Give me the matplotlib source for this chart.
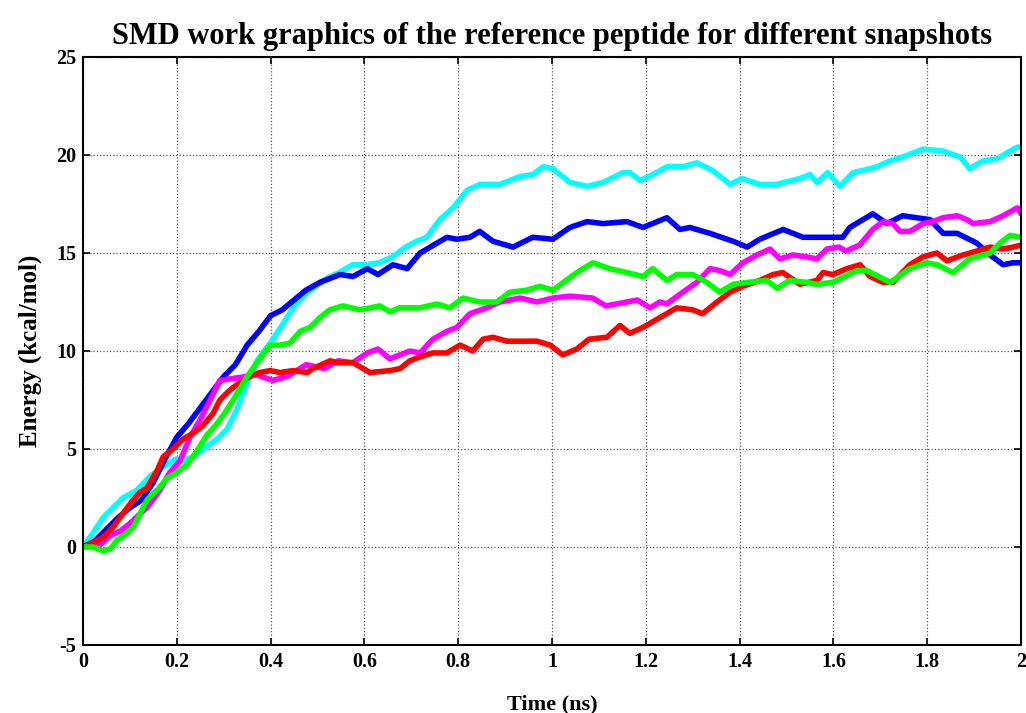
import matplotlib.pyplot as plt

# Energy curves (time in ns, energy in kcal/mol)
t_blue = [0, 0.025, 0.05, 0.075, 0.1, 0.125, 0.15, 0.175, 0.2, 0.225, 0.25, 0.275, 0.3, 0.325, 0.35,
          0.375, 0.4, 0.425, 0.45, 0.475, 0.505, 0.548, 0.576, 0.606, 0.629, 0.661, 0.691, 0.719,
          0.776, 0.797, 0.825, 0.846, 0.874, 0.917, 0.959, 1.002, 1.038, 1.075, 1.109, 1.160,
          1.194, 1.245, 1.273, 1.294, 1.337, 1.386, 1.416, 1.443, 1.493, 1.535, 1.593, 1.620,
          1.635, 1.684, 1.714, 1.748, 1.806, 1.834, 1.864, 1.906, 1.934, 1.962, 1.983, 2.0]
e_blue = [0, 0.3, 0.9, 1.5, 2.0, 2.4, 3.3, 4.5, 5.6, 6.3, 7.1, 7.9, 8.7, 9.3, 10.3,
          11.0, 11.8, 12.1, 12.6, 13.1, 13.5, 13.9, 13.8, 14.2, 13.9, 14.4, 14.2, 15.0,
          15.8, 15.7, 15.8, 16.1, 15.6, 15.3, 15.8, 15.7, 16.3, 16.6, 16.5, 16.6,
          16.3, 16.8, 16.2, 16.3, 16.0, 15.6, 15.3, 15.7, 16.2, 15.8, 15.8, 15.8,
          16.3, 17.0, 16.5, 16.9, 16.7, 16.0, 16.0, 15.5, 14.9, 14.4, 14.5, 14.5]

t_cyan = [0, 0.021, 0.043, 0.064, 0.085, 0.115, 0.143, 0.171, 0.200, 0.213, 0.235, 0.256, 0.286,
          0.307, 0.328, 0.350, 0.371, 0.399, 0.427, 0.448, 0.478, 0.520, 0.546, 0.575, 0.603,
          0.631, 0.660, 0.688, 0.712, 0.733, 0.761, 0.789, 0.819, 0.846, 0.874, 0.889, 0.932,
          0.960, 0.981, 1.002, 1.038, 1.075, 1.109, 1.151, 1.166, 1.188, 1.215, 1.245, 1.279,
          1.309, 1.343, 1.380, 1.405, 1.443, 1.479, 1.529, 1.550, 1.565, 1.588, 1.614, 1.642,
          1.678, 1.693, 1.721, 1.748, 1.791, 1.834, 1.870, 1.891, 1.919, 1.949, 1.977, 1.992, 2.0]
e_cyan = [0, 0.7, 1.5, 2.0, 2.5, 2.9, 3.6, 4.1, 4.5, 4.4, 4.6, 5.0, 5.5,
          6.0, 7.0, 8.4, 9.5, 10.4, 11.4, 12.2, 13.0, 13.7, 14.0, 14.4, 14.4,
          14.5, 14.8, 15.3, 15.6, 15.8, 16.7, 17.3, 18.2, 18.5, 18.5, 18.5, 18.9,
          19.0, 19.4, 19.3, 18.6, 18.4, 18.6, 19.1, 19.1, 18.7, 19.0, 19.4, 19.4,
          19.6, 19.2, 18.5, 18.8, 18.5, 18.5, 18.8, 19.0, 18.6, 19.1, 18.4, 19.1,
          19.3, 19.4, 19.7, 19.9, 20.3, 20.2, 19.9, 19.3, 19.7, 19.8, 20.2, 20.4, 20.4]

t_magenta = [0, 0.036, 0.058, 0.079, 0.100, 0.122, 0.136, 0.164, 0.185, 0.207, 0.228, 0.250,
             0.271, 0.292, 0.320, 0.348, 0.367, 0.405, 0.435, 0.476, 0.515, 0.544, 0.575,
             0.606, 0.629, 0.654, 0.697, 0.719, 0.746, 0.776, 0.797, 0.825, 0.861, 0.889,
             0.932, 0.968, 1.002, 1.038, 1.087, 1.115, 1.160, 1.182, 1.209, 1.230, 1.245,
             1.279, 1.309, 1.337, 1.358, 1.380, 1.407, 1.437, 1.465, 1.486, 1.514, 1.543,
             1.565, 1.586, 1.612, 1.627, 1.656, 1.684, 1.706, 1.727, 1.742, 1.763, 1.791,
             1.812, 1.834, 1.864, 1.885, 1.898, 1.934, 1.962, 1.992, 2.0]
e_magenta = [0, 0.1, 0.6, 0.8, 1.2, 1.7, 2.0, 2.9, 3.8, 4.4, 5.6, 6.5,
             7.5, 8.5, 8.6, 8.7, 8.8, 8.5, 8.7, 9.3, 9.1, 9.5, 9.4,
             9.9, 10.1, 9.6, 10.0, 9.9, 10.6, 11.0, 11.2, 11.9, 12.2, 12.5,
             12.7, 12.5, 12.7, 12.8, 12.7, 12.3, 12.5, 12.6, 12.2, 12.5, 12.4,
             13.0, 13.5, 14.2, 14.1, 13.9, 14.5, 14.9, 15.2, 14.7, 14.9, 14.8,
             14.7, 15.2, 15.3, 15.1, 15.4, 16.2, 16.6, 16.5, 16.1, 16.1, 16.5,
             16.6, 16.8, 16.9, 16.7, 16.5, 16.6, 16.9, 17.3, 17.0]

t_green = [0, 0.021, 0.043, 0.058, 0.073, 0.094, 0.107, 0.122, 0.136, 0.158, 0.179, 0.200,
           0.222, 0.243, 0.264, 0.286, 0.307, 0.328, 0.350, 0.371, 0.399, 0.420, 0.441,
           0.463, 0.484, 0.505, 0.526, 0.554, 0.591, 0.633, 0.654, 0.675, 0.718, 0.755,
           0.782, 0.810, 0.846, 0.883, 0.910, 0.946, 0.974, 1.002, 1.030, 1.053, 1.087,
           1.123, 1.160, 1.194, 1.215, 1.245, 1.266, 1.300, 1.330, 1.358, 1.386, 1.416,
           1.458, 1.480, 1.507, 1.543, 1.564, 1.599, 1.650, 1.672, 1.721, 1.763, 1.799,
           1.821, 1.855, 1.891, 1.934, 1.955, 1.977, 2.0]
e_green = [0, 0, -0.2, -0.1, 0.35, 0.7, 1.0, 1.7, 2.4, 2.9, 3.5, 3.8,
           4.2, 4.9, 5.7, 6.3, 7.0, 7.8, 8.7, 9.4, 10.3, 10.3, 10.4,
           11.0, 11.2, 11.7, 12.1, 12.3, 12.1, 12.3, 12.0, 12.2, 12.2, 12.4,
           12.2, 12.7, 12.5, 12.5, 13.0, 13.1, 13.3, 13.1, 13.6, 14.0, 14.5,
           14.2, 14.0, 13.8, 14.2, 13.6, 13.9, 13.9, 13.5, 13.0, 13.4, 13.5,
           13.6, 13.2, 13.6, 13.5, 13.4, 13.5, 14.1, 14.1, 13.5, 14.2, 14.5,
           14.4, 14.0, 14.7, 15.0, 15.5, 15.9, 15.8]

t_red = [0, 0.021, 0.043, 0.064, 0.085, 0.107, 0.122, 0.136, 0.158, 0.171, 0.192, 0.213,
         0.235, 0.256, 0.277, 0.292, 0.313, 0.335, 0.356, 0.377, 0.399, 0.420, 0.448,
         0.478, 0.490, 0.527, 0.541, 0.576, 0.612, 0.655, 0.676, 0.697, 0.719, 0.746,
         0.776, 0.804, 0.831, 0.853, 0.874, 0.904, 0.968, 0.996, 1.023, 1.053, 1.079,
         1.117, 1.145, 1.166, 1.194, 1.230, 1.266, 1.300, 1.321, 1.352, 1.380, 1.407,
         1.443, 1.471, 1.492, 1.529, 1.565, 1.578, 1.599, 1.629, 1.657, 1.678, 1.706,
         1.727, 1.763, 1.791, 1.821, 1.842, 1.877, 1.906, 1.934, 1.962, 1.983, 2.0]
e_red = [0, 0.2, 0.5, 1.0, 1.7, 2.4, 2.8, 3.0, 3.9, 4.6, 5.0, 5.5,
         5.8, 6.2, 6.8, 7.5, 8.0, 8.4, 8.7, 8.9, 9.0, 8.9, 9.0,
         8.9, 9.1, 9.5, 9.4, 9.4, 8.9, 9.0, 9.1, 9.5, 9.7, 9.9,
         9.9, 10.3, 10.0, 10.6, 10.7, 10.5, 10.5, 10.3, 9.8, 10.1, 10.6,
         10.7, 11.3, 10.9, 11.2, 11.7, 12.2, 12.1, 11.9, 12.5, 13.0, 13.3,
         13.6, 13.9, 14.0, 13.4, 13.6, 14.0, 13.9, 14.2, 14.4, 13.8, 13.5,
         13.5, 14.4, 14.8, 15.0, 14.6, 14.9, 15.1, 15.3, 15.2, 15.3, 15.4]

series = [(t_cyan, e_cyan, '#00ffff'),
          (t_blue, e_blue, '#0000ff'),
          (t_magenta, e_magenta, '#ff00ff'),
          (t_red, e_red, '#ff0000'),
          (t_green, e_green, '#00ff00')]

x_ticks = [0, 0.2, 0.4, 0.6, 0.8, 1, 1.2, 1.4, 1.6, 1.8, 2]
x_labels = ['0', '0.2', '0.4', '0.6', '0.8', '1', '1.2', '1.4', '1.6', '1.8', '2']
y_ticks = [-5, 0, 5, 10, 15, 20, 25]
y_labels = ['-5', '0', '5', '10', '15', '20', '25']

plt.rcParams['font.family'] = ['Liberation Serif', 'DejaVu Serif']
plt.rcParams['font.weight'] = 'bold'

fig = plt.figure(figsize=(10.26, 7.13), dpi=100)
ax = fig.add_axes([0.0809, 0.0954, 0.9142, 0.8247])

for t, e, c in series:
    ax.plot(t, e, color=c, linewidth=4.0, solid_capstyle='round', solid_joinstyle='round')

ax.set_xlim(0, 2)
ax.set_ylim(-5, 25)
ax.set_xticks(x_ticks)
ax.set_xticklabels(x_labels)
ax.set_yticks(y_ticks)
ax.set_yticklabels(y_labels)
ax.grid(True, color='#555555', linestyle=':', linewidth=0.9)
ax.tick_params(direction='in', length=5, width=1.2, top=True, right=True,
               labelsize=14.5, pad=5)
for lbl in ax.get_xticklabels() + ax.get_yticklabels():
    lbl.set_fontweight('bold')
for s in ax.spines.values():
    s.set_linewidth(1.5)

ax.set_title('SMD work graphics of the reference peptide for different snapshots',
             fontsize=22, fontweight='bold', pad=9)
ax.set_xlabel('Time (ns)', fontsize=16, fontweight='bold', labelpad=16)
ax.set_ylabel('Energy (kcal/mol)', fontsize=18, fontweight='bold', labelpad=10)

fig.savefig('out.png', dpi=100)
